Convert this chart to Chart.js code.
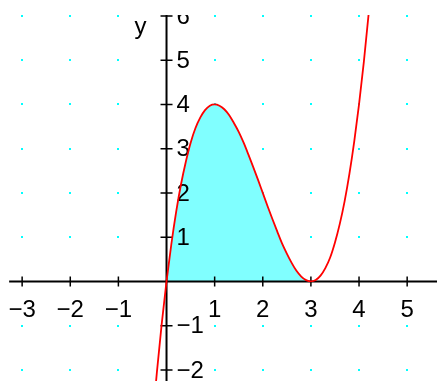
<!DOCTYPE html>
<html>
<head>
<meta charset="utf-8">
<script src="https://cdn.jsdelivr.net/npm/chart.js@4/dist/chart.umd.min.js"></script>
<style>
  html, body { margin: 0; padding: 0; background: #fff; }
  #wrap { width: 437px; height: 381px; }
</style>
</head>
<body>
<div id="wrap"><canvas id="graph"></canvas></div>
<script>
// valores (x, y)
const curveX = [-0.3, -0.2, -0.1, 0, 0.1, 0.2, 0.3, 0.4, 0.5, 0.6, 0.7, 0.8, 0.9, 1.0,
    1.1, 1.2, 1.3, 1.4, 1.5, 1.6, 1.7, 1.8, 1.9, 2.0, 2.1, 2.2, 2.3, 2.4, 2.5, 2.6,
    2.7, 2.8, 2.9, 3.0, 3.1, 3.2, 3.3, 3.4, 3.5, 3.6, 3.7, 3.8, 3.9, 4.0, 4.1, 4.2, 4.3];
const curveY = [-3.27, -2.05, -0.96, 0, 0.84, 1.57, 2.19, 2.70, 3.13, 3.46, 3.70, 3.87, 3.97, 4.0,
    3.97, 3.89, 3.76, 3.58, 3.38, 3.14, 2.87, 2.59, 2.30, 2.0, 1.70, 1.41, 1.13, 0.86, 0.63, 0.42,
    0.24, 0.11, 0.03, 0, 0.03, 0.13, 0.30, 0.54, 0.88, 1.30, 1.81, 2.43, 3.16, 4.0, 4.96, 6.05, 7.27];

// área sombreada entre x = 0 e x = 3
const shadeFrom = 0;
const shadeTo = 3;

// rótulos dos eixos
const xTicks = [-3, -2, -1, 1, 2, 3, 4, 5];
const yTicks = [-2, -1, 1, 2, 3, 4, 5, 6];
const gridX = [-3, -2, -1, 1, 2, 3, 4, 5];
const gridY = [-2, -1, 1, 2, 3, 4, 5, 6];

const curvePoints = curveX.map((x, i) => ({ x: x, y: curveY[i] }));
const shadePoints = curvePoints.filter(p => p.x >= shadeFrom && p.x <= shadeTo);

// Plugin que desenha pontos da grade, eixos e rótulos
const axesPlugin = {
    id: 'axesPlugin',
    beforeDatasetsDraw(chart) {
        const ctx = chart.ctx;
        const xs = chart.scales.x;
        const ys = chart.scales.y;
        ctx.save();
        ctx.fillStyle = '#00ffff';
        gridX.forEach(gx => {
            gridY.forEach(gy => {
                const px = Math.round(xs.getPixelForValue(gx));
                const py = Math.round(ys.getPixelForValue(gy));
                ctx.fillRect(px - 1, py - 1, 2, 2);
            });
        });
        ctx.restore();
    },
    afterDatasetDraw(chart, args) {
        if (args.index !== 1) return; // depois do preenchimento, antes da linha
        const ctx = chart.ctx;
        const xs = chart.scales.x;
        const ys = chart.scales.y;
        const area = chart.chartArea;
        const x0 = xs.getPixelForValue(0);
        const y0 = ys.getPixelForValue(0);

        ctx.save();
        ctx.beginPath();
        ctx.rect(area.left, area.top, area.right - area.left, area.bottom - area.top);
        ctx.clip();

        ctx.strokeStyle = '#000';
        ctx.lineWidth = 2;
        ctx.beginPath();
        ctx.moveTo(xs.getPixelForValue(-3.27), y0);
        ctx.lineTo(area.right, y0);
        ctx.moveTo(x0, area.top);
        ctx.lineTo(x0, area.bottom);
        ctx.stroke();

        ctx.lineWidth = 1.5;
        ctx.beginPath();
        xTicks.forEach(t => {
            const px = xs.getPixelForValue(t);
            ctx.moveTo(px, y0 - 5);
            ctx.lineTo(px, y0 + 5);
        });
        yTicks.forEach(t => {
            const py = ys.getPixelForValue(t);
            ctx.moveTo(x0 - 6, py);
            ctx.lineTo(x0 + 6, py);
        });
        ctx.stroke();

        ctx.fillStyle = '#000';
        ctx.font = '24px "Liberation Sans", Arial, sans-serif';
        ctx.textBaseline = 'middle';
        ctx.textAlign = 'center';
        xTicks.forEach(t => {
            const label = t < 0 ? '\u2212' + Math.abs(t) : String(t);
            ctx.fillText(label, xs.getPixelForValue(t), y0 + 29);
        });
        ctx.textAlign = 'left';
        yTicks.forEach(t => {
            const label = t < 0 ? '\u2212' + Math.abs(t) : String(t);
            ctx.fillText(label, x0 + 10, ys.getPixelForValue(t) + 1);
        });
        ctx.textAlign = 'center';
        ctx.fillText('y', x0 - 26, area.top + 12);
        ctx.restore();
    }
};

const ctx = document.getElementById('graph').getContext('2d');

new Chart(ctx, {
    type: 'scatter',
    data: {
        datasets: [
            {
                label: 'curva',
                data: curvePoints,
                showLine: true,
                borderColor: '#ff0000',
                borderWidth: 1.8,
                pointRadius: 0,
                cubicInterpolationMode: 'monotone',
                fill: false
            },
            {
                label: 'área',
                data: shadePoints,
                showLine: true,
                borderWidth: 0,
                borderColor: 'rgba(0,0,0,0)',
                backgroundColor: '#80ffff',
                pointRadius: 0,
                cubicInterpolationMode: 'monotone',
                fill: 'origin'
            }
        ]
    },
    options: {
        responsive: true,
        maintainAspectRatio: false,
        animation: false,
        layout: { padding: { top: 15, left: 0, right: 0, bottom: 0 } },
        plugins: {
            legend: { display: false },
            tooltip: { enabled: false }
        },
        scales: {
            x: { type: 'linear', min: -3.46, max: 5.62, display: false },
            y: { type: 'linear', min: -2.25, max: 6.02, display: false }
        }
    },
    plugins: [axesPlugin]
});
</script>
</body>
</html>
